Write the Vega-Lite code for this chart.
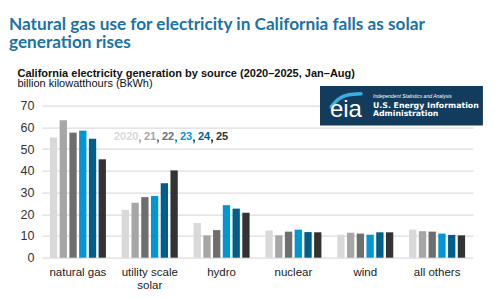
{
  "$schema": "https://vega.github.io/schema/vega-lite/v6.json",
  "autosize": "none",
  "width": 431,
  "height": 152,
  "padding": {"left": 42, "top": 105.7, "right": 27, "bottom": 42.3},
  "background": "white",
  "title": {
    "text": ["Natural gas use for electricity in California falls as solar", "generation rises"],
    "anchor": "start",
    "frame": "group",
    "orient": "top",
    "font": "Lato",
    "fontSize": 17.2,
    "fontWeight": "bold",
    "color": "#1a73a6",
    "lineHeight": 18,
    "dx": -33,
    "offset": 0,
    "dy": -17
  },
  "config": {
    "view": {"stroke": null},
    "font": "Liberation Sans",
    "axis": {"labelFont": "Liberation Sans", "titleFont": "Liberation Sans"}
  },
  "resolve": {
    "scale": {"x": "independent", "y": "independent"},
    "axis": {"x": "independent", "y": "independent"}
  },
  "layer": [
    {
      "data": {
        "values": [
          {"source": "natural gas", "year": "2020", "value": 55.3},
          {"source": "natural gas", "year": "2021", "value": 63.3},
          {"source": "natural gas", "year": "2022", "value": 57.6},
          {"source": "natural gas", "year": "2023", "value": 58.5},
          {"source": "natural gas", "year": "2024", "value": 54.8},
          {"source": "natural gas", "year": "2025", "value": 45.3},
          {"source": "utility scale solar", "year": "2020", "value": 22.0},
          {"source": "utility scale solar", "year": "2021", "value": 25.3},
          {"source": "utility scale solar", "year": "2022", "value": 27.9},
          {"source": "utility scale solar", "year": "2023", "value": 28.4},
          {"source": "utility scale solar", "year": "2024", "value": 34.3},
          {"source": "utility scale solar", "year": "2025", "value": 40.2},
          {"source": "hydro", "year": "2020", "value": 16.0},
          {"source": "hydro", "year": "2021", "value": 10.3},
          {"source": "hydro", "year": "2022", "value": 12.7},
          {"source": "hydro", "year": "2023", "value": 24.2},
          {"source": "hydro", "year": "2024", "value": 22.6},
          {"source": "hydro", "year": "2025", "value": 20.7},
          {"source": "nuclear", "year": "2020", "value": 12.5},
          {"source": "nuclear", "year": "2021", "value": 10.3},
          {"source": "nuclear", "year": "2022", "value": 12.0},
          {"source": "nuclear", "year": "2023", "value": 12.9},
          {"source": "nuclear", "year": "2024", "value": 11.8},
          {"source": "nuclear", "year": "2025", "value": 11.7},
          {"source": "wind", "year": "2020", "value": 10.6},
          {"source": "wind", "year": "2021", "value": 11.5},
          {"source": "wind", "year": "2022", "value": 11.1},
          {"source": "wind", "year": "2023", "value": 10.6},
          {"source": "wind", "year": "2024", "value": 11.7},
          {"source": "wind", "year": "2025", "value": 11.7},
          {"source": "all others", "year": "2020", "value": 12.9},
          {"source": "all others", "year": "2021", "value": 12.2},
          {"source": "all others", "year": "2022", "value": 12.0},
          {"source": "all others", "year": "2023", "value": 11.1},
          {"source": "all others", "year": "2024", "value": 10.5},
          {"source": "all others", "year": "2025", "value": 10.3}
        ]
      },
      "mark": {"type": "bar"},
      "encoding": {
        "x": {
          "field": "source",
          "type": "nominal",
          "sort": ["natural gas", "utility scale solar", "hydro", "nuclear", "wind", "all others"],
          "scale": {"paddingInner": 0.22, "paddingOuter": 0.11},
          "axis": {
            "title": null,
            "labelAngle": 0,
            "domain": false,
            "ticks": false,
            "labelPadding": 9,
            "labelFontSize": 11.5,
            "labelColor": "#222222",
            "labelLineHeight": 13,
            "labelExpr": "datum.label == 'utility scale solar' ? ['utility scale', 'solar'] : datum.label"
          }
        },
        "xOffset": {
          "field": "year",
          "type": "nominal",
          "scale": {"paddingInner": 0.25, "paddingOuter": 0}
        },
        "y": {
          "field": "value",
          "type": "quantitative",
          "scale": {"domain": [0, 70], "nice": false},
          "axis": {
            "title": "billion kilowatthours (BkWh)",
            "titleAngle": 0,
            "titleAlign": "left",
            "titleBaseline": "alphabetic",
            "titleX": -25,
            "titleY": -19,
            "titleFontSize": 11,
            "titleFontWeight": "normal",
            "titleColor": "#111111",
            "values": [0, 10, 20, 30, 40, 50, 60, 70],
            "labelOverlap": false,
            "domain": false,
            "ticks": false,
            "labelPadding": 8,
            "labelFontSize": 12.5,
            "labelColor": "#333333",
            "gridColor": "#dddddd",
            "gridWidth": 1.3
          }
        },
        "color": {
          "field": "year",
          "type": "nominal",
          "scale": {
            "domain": ["2020", "2021", "2022", "2023", "2024", "2025"],
            "range": ["#d9d9d9", "#a6a6a6", "#6e6e6e", "#0096d6", "#005f8a", "#333333"]
          },
          "legend": {
            "title": null,
            "orient": "none",
            "legendX": 67.5,
            "legendY": 26,
            "direction": "horizontal",
            "gridAlign": "none",
            "padding": 0,
            "columnPadding": 0,
            "labelOffset": -6.5,
            "labelFont": "Liberation Sans",
            "labelFontSize": 11,
            "labelFontWeight": "bold",
            "labelExpr": "datum.label == '2020' ? '2020' : slice(datum.label, 2)",
            "symbolType": "M -3.0 1.1 L -2.0 1.1 L -2.0 2.1 L -2.45 3.1 L -2.9 3.1 L -2.55 2.05 L -3.0 2.05 Z",
            "symbolSize": 16,
            "symbolFillColor": "#333333",
            "symbolStrokeWidth": 0,
            "encode": {
              "labels": {"update": {"fill": {"signal": "scale('color', datum.value)"}}},
              "symbols": {"update": {"fill": {"value": "#333333"}, "opacity": {"signal": "datum.value == '2020' ? 0 : 1"}}}
            }
          }
        }
      }
    },
    {
      "layer": [
        {
          "data": {"values": [{}]},
          "mark": {"type": "rect", "color": "#123b5c"},
          "encoding": {
            "x": {
              "datum": 0.645,
              "type": "quantitative",
              "scale": {"domain": [0, 1], "nice": false, "zero": false},
              "axis": {
                "orient": "top",
                "title": "California electricity generation by source (2020–2025, Jan–Aug)",
                "titleX": -25,
                "titleY": -29,
                "titleAlign": "left",
                "titleBaseline": "alphabetic",
                "titleAngle": 0,
                "titleFontSize": 11,
                "titleFontWeight": "bold",
                "titleColor": "#111111",
                "labels": false,
                "ticks": false,
                "domain": false,
                "grid": false
              }
            },
            "x2": {"datum": 1.023},
            "y": {"datum": 79.1, "type": "quantitative", "scale": {"domain": [0, 70], "nice": false}, "axis": null},
            "y2": {"datum": 60.9}
          }
        },
        {
          "data": {
            "values": [
              {"u": 0.671, "v": 69.5},
              {"u": 0.688, "v": 73.0},
              {"u": 0.712, "v": 75.0},
              {"u": 0.74, "v": 75.5}
            ]
          },
          "mark": {"type": "line", "color": "#3aaee3", "strokeWidth": 3.5, "interpolate": "monotone", "strokeCap": "round"},
          "encoding": {
            "x": {"field": "u", "type": "quantitative", "scale": {"domain": [0, 1], "nice": false, "zero": false}},
            "y": {"field": "v", "type": "quantitative", "scale": {"domain": [0, 70], "nice": false}, "axis": null}
          }
        },
        {
          "data": {"values": [{}]},
          "mark": {"type": "text", "text": "eia", "color": "white", "font": "Liberation Sans", "fontSize": 24, "align": "left", "baseline": "alphabetic"},
          "encoding": {
            "x": {"datum": 0.668, "type": "quantitative", "scale": {"domain": [0, 1], "nice": false, "zero": false}},
            "y": {"datum": 64.8, "type": "quantitative", "scale": {"domain": [0, 70], "nice": false}, "axis": null}
          }
        },
        {
          "data": {"values": [{}]},
          "mark": {"type": "text", "text": "Independent Statistics and Analysis", "color": "white", "font": "Liberation Sans", "fontSize": 5, "fontStyle": "italic", "align": "left", "baseline": "alphabetic"},
          "encoding": {
            "x": {"datum": 0.768, "type": "quantitative", "scale": {"domain": [0, 1], "nice": false, "zero": false}},
            "y": {"datum": 73.5, "type": "quantitative", "scale": {"domain": [0, 70], "nice": false}, "axis": null}
          }
        },
        {
          "data": {"values": [{}]},
          "mark": {"type": "text", "text": "U.S. Energy Information", "color": "white", "font": "DejaVu Sans", "fontSize": 7.8, "fontWeight": "bold", "align": "left", "baseline": "alphabetic"},
          "encoding": {
            "x": {"datum": 0.768, "type": "quantitative", "scale": {"domain": [0, 1], "nice": false, "zero": false}},
            "y": {"datum": 68.9, "type": "quantitative", "scale": {"domain": [0, 70], "nice": false}, "axis": null}
          }
        },
        {
          "data": {"values": [{}]},
          "mark": {"type": "text", "text": "Administration", "color": "white", "font": "DejaVu Sans", "fontSize": 7.8, "fontWeight": "bold", "align": "left", "baseline": "alphabetic"},
          "encoding": {
            "x": {"datum": 0.768, "type": "quantitative", "scale": {"domain": [0, 1], "nice": false, "zero": false}},
            "y": {"datum": 65.1, "type": "quantitative", "scale": {"domain": [0, 70], "nice": false}, "axis": null}
          }
        }
      ]
    }
  ]
}
